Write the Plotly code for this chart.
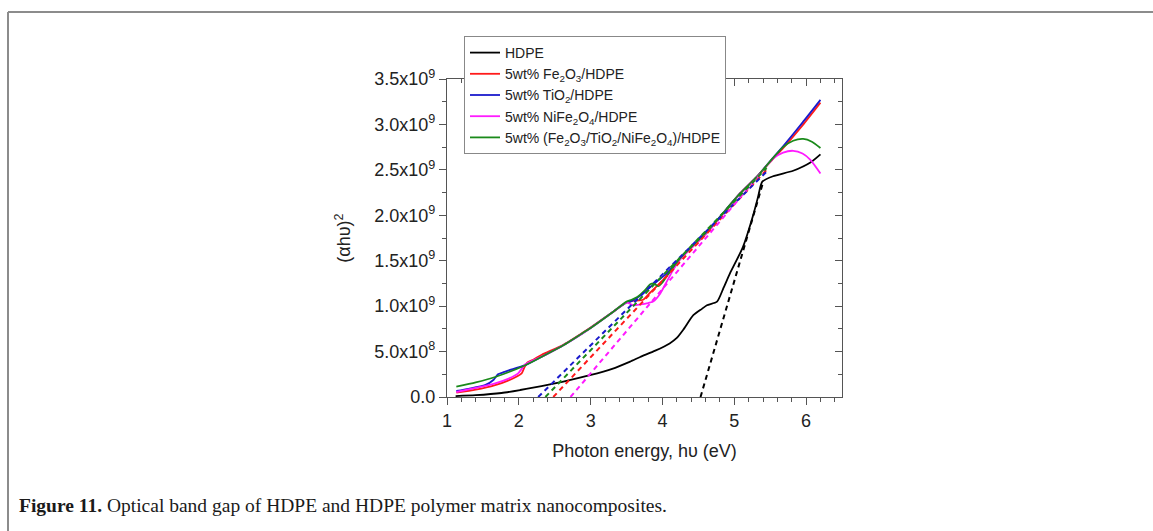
import plotly.graph_objects as go

SCALE = 1e9

# ---------------- data (y in units of 1e9) ----------------
hdpe_x = [1.12, 1.4, 1.76, 2.02, 2.18, 2.62, 2.99, 3.3, 3.55, 3.69, 3.9, 4.1, 4.2, 4.29, 4.43,
          4.55, 4.62, 4.76, 4.85, 4.94, 5.12, 5.27, 5.33, 5.39, 5.54, 5.82, 6.06, 6.2]
hdpe_y = [0.01, 0.02, 0.044, 0.077, 0.10, 0.17, 0.24, 0.31, 0.39, 0.44, 0.51, 0.59, 0.65, 0.74, 0.90,
          0.97, 1.01, 1.05, 1.20, 1.36, 1.65, 2.02, 2.20, 2.37, 2.43, 2.49, 2.58, 2.67]

fe_x = [1.13, 1.4, 1.67, 1.85, 2.04, 2.08, 2.12, 2.2, 2.32, 2.62, 3.0, 3.3, 3.5, 3.6, 3.73, 3.83,
        4.01, 4.25, 4.62, 5.08, 5.31, 5.55, 5.68, 5.95, 6.2]
fe_y = [0.047, 0.08, 0.13, 0.18, 0.26, 0.33, 0.38, 0.41, 0.465, 0.575, 0.765, 0.93, 1.04, 1.06, 1.07, 1.15,
        1.29, 1.52, 1.81, 2.24, 2.42, 2.63, 2.74, 2.99, 3.24]

ti_x = [1.13, 1.3, 1.53, 1.65, 1.71, 1.78, 1.85, 2.09, 2.36, 2.62, 3.0, 3.3, 3.5, 3.55, 3.62, 3.7,
        3.83, 3.95, 4.06, 4.25, 4.62, 5.08, 5.31, 5.55, 5.68, 5.95, 6.2]
ti_y = [0.066, 0.09, 0.13, 0.19, 0.25, 0.27, 0.29, 0.35, 0.46, 0.57, 0.76, 0.93, 1.04, 1.05, 1.08, 1.12,
        1.21, 1.29, 1.36, 1.53, 1.82, 2.24, 2.42, 2.64, 2.76, 3.02, 3.27]

ni_x = [1.13, 1.4, 1.67, 1.85, 1.99, 2.05, 2.09, 2.36, 2.62, 3.0, 3.3, 3.5, 3.59, 3.7, 3.78, 3.87,
        3.97, 4.06, 4.15, 4.25, 4.62, 5.08, 5.31, 5.55, 5.68, 5.82, 5.95, 6.06, 6.2]
ni_y = [0.055, 0.10, 0.15, 0.20, 0.26, 0.32, 0.36, 0.46, 0.57, 0.76, 0.93, 1.04, 1.01, 1.02, 1.03, 1.05,
        1.14, 1.27, 1.40, 1.52, 1.81, 2.24, 2.42, 2.63, 2.69, 2.71, 2.68, 2.61, 2.46]

mix_x = [1.13, 1.4, 1.67, 2.09, 2.36, 2.62, 2.88, 3.0, 3.3, 3.5, 3.57, 3.65, 3.75, 3.83, 3.88, 3.94,
         4.0, 4.06, 4.25, 4.62, 5.08, 5.31, 5.55, 5.68, 5.82, 5.96, 6.08, 6.2]
mix_y = [0.113, 0.16, 0.22, 0.35, 0.46, 0.57, 0.70, 0.76, 0.93, 1.05, 1.07, 1.10, 1.17, 1.24, 1.25, 1.22,
         1.26, 1.33, 1.53, 1.82, 2.24, 2.42, 2.64, 2.75, 2.82, 2.84, 2.81, 2.74]

# linear band-gap extrapolation lines (x-intercept -> upper end)
fit_hdpe_x = [4.53, 5.40]
fit_hdpe_y = [0.0, 2.36]
fit_fe_x = [2.48, 5.45]
fit_fe_y = [0.0, 2.50]
fit_ti_x = [2.27, 5.45]
fit_ti_y = [0.0, 2.48]
fit_ni_x = [2.72, 5.40]
fit_ni_y = [0.0, 2.49]
fit_mix_x = [2.37, 5.45]
fit_mix_y = [0.0, 2.52]

names = ["HDPE",
         "5wt% Fe<sub>2</sub>O<sub>3</sub>/HDPE",
         "5wt% TiO<sub>2</sub>/HDPE",
         "5wt% NiFe<sub>2</sub>O<sub>4</sub>/HDPE",
         "5wt% (Fe<sub>2</sub>O<sub>3</sub>/TiO<sub>2</sub>/NiFe<sub>2</sub>O<sub>4</sub>)/HDPE"]
colors = ["#000000", "#ff1a1a", "#1a1acc", "#ff1aff", "#1a8a1a"]

x_ticks = [1, 2, 3, 4, 5, 6]
y_tickvals = [0, 0.5, 1.0, 1.5, 2.0, 2.5, 3.0, 3.5]
y_ticktext = ["0.0", "5.0x10<sup>8</sup>", "1.0x10<sup>9</sup>", "1.5x10<sup>9</sup>",
              "2.0x10<sup>9</sup>", "2.5x10<sup>9</sup>", "3.0x10<sup>9</sup>", "3.5x10<sup>9</sup>"]

solid = [(hdpe_x, hdpe_y), (fe_x, fe_y), (ti_x, ti_y), (ni_x, ni_y), (mix_x, mix_y)]
fits = [(fit_hdpe_x, fit_hdpe_y), (fit_fe_x, fit_fe_y), (fit_ti_x, fit_ti_y),
        (fit_ni_x, fit_ni_y), (fit_mix_x, fit_mix_y)]

fig = go.Figure()
for (xs, ys), name, c in zip(solid, names, colors):
    fig.add_trace(go.Scatter(x=xs, y=[v * SCALE for v in ys], mode="lines", name=name,
                             line=dict(color=c, width=1.8, shape="spline", smoothing=0.6)))
for (xs, ys), c in zip(fits, colors):
    fig.add_trace(go.Scatter(x=xs, y=[v * SCALE for v in ys], mode="lines", showlegend=False,
                             hoverinfo="skip", line=dict(color=c, width=2, dash="5px,4px")))

W, H = 1153, 531
L, R, T, B = 447, 842, 79, 397
axis_col = "#555555"
font = "Liberation Sans, Arial, sans-serif"

fig.update_layout(
    width=W, height=H,
    margin=dict(l=L, r=W - R, t=T, b=H - B, autoexpand=False),
    paper_bgcolor="white", plot_bgcolor="white",
    font=dict(family=font, color="#222222", size=17),
    showlegend=True,
    legend=dict(x=(464 - L) / (R - L), y=(B - 36) / (B - T), xanchor="left", yanchor="top",
                bgcolor="white", bordercolor="#888888", borderwidth=1,
                font=dict(family=font, size=14, color="#222222"),
                tracegroupgap=0, itemwidth=30),
    xaxis=dict(range=[1, 6.5], tickvals=x_ticks, ticks="outside", ticklen=7, tickwidth=1.2,
               tickcolor=axis_col, showline=True, linecolor=axis_col, linewidth=1.2,
               showgrid=False, zeroline=False, mirror=True,
               minor=dict(dtick=0.2, ticks="outside", ticklen=4, tickcolor=axis_col, tickwidth=1.2),
               tickfont=dict(size=18),
               title=dict(text="Photon energy, h\u03c5 (eV)", font=dict(size=18), standoff=14)),
    yaxis=dict(range=[0, 3.5 * SCALE], tickvals=[v * SCALE for v in y_tickvals], ticktext=y_ticktext,
               ticks="outside", ticklen=7, tickwidth=1.2, tickcolor=axis_col,
               showline=True, linecolor=axis_col, linewidth=1.2, mirror=True,
               showgrid=False, zeroline=False,
               minor=dict(dtick=0.25 * SCALE, ticks="outside", ticklen=4, tickcolor=axis_col, tickwidth=1.2),
               tickfont=dict(size=18),
               title=dict(text="(\u03b1h\u03c5)<sup>2</sup>", font=dict(size=18), standoff=18)),
    xaxis2=dict(overlaying="x", side="top", anchor="y", matches="x", range=[1, 6.5],
                tickvals=x_ticks, ticks="inside", ticklen=7, tickwidth=1.2, tickcolor=axis_col,
                showticklabels=False, showgrid=False, zeroline=False, showline=False,
                minor=dict(dtick=0.2, ticks="inside", ticklen=4, tickcolor=axis_col, tickwidth=1.2)),
    yaxis2=dict(overlaying="y", side="right", anchor="x", range=[0, 3.5 * SCALE],
                tickvals=[v * SCALE for v in y_tickvals], ticks="inside", ticklen=7, tickwidth=1.2,
                tickcolor=axis_col, showticklabels=False, showgrid=False, zeroline=False, showline=False,
                minor=dict(dtick=0.25 * SCALE, ticks="inside", ticklen=4, tickcolor=axis_col, tickwidth=1.2)),
)

# empty trace so that the mirrored inner-tick axes are drawn
fig.add_trace(go.Scatter(x=[], y=[], xaxis="x2", yaxis="y2", showlegend=False, hoverinfo="skip"))

# outer figure frame (left and top edges)
def px_x(p):
    return (p - L) / (R - L)

def px_y(p):
    return (B - p) / (B - T)

fig.add_shape(type="line", xref="paper", yref="paper", x0=px_x(8), x1=px_x(1160),
              y0=px_y(12), y1=px_y(12), line=dict(color="#8c8c8c", width=2))
fig.add_shape(type="line", xref="paper", yref="paper", x0=px_x(8), x1=px_x(8),
              y0=px_y(12), y1=px_y(540), line=dict(color="#8c8c8c", width=2))

fig.add_annotation(xref="paper", yref="paper", x=px_x(17), y=px_y(505), xanchor="left", yanchor="middle",
                   showarrow=False, align="left",
                   text="<b>Figure 11.</b> Optical band gap of HDPE and HDPE polymer matrix nanocomposites.",
                   font=dict(family="Liberation Serif, Times New Roman, serif", size=19.5, color="#1a1a1a"))

fig.write_html("out.html")
